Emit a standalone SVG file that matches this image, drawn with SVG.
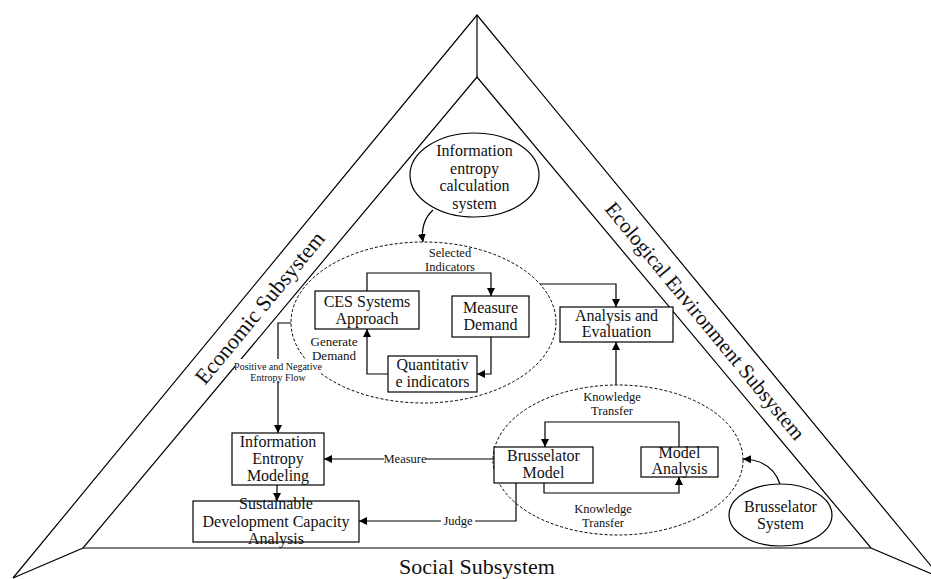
<svg xmlns="http://www.w3.org/2000/svg" width="931" height="579" viewBox="0 0 931 579">
<defs>
<marker id="ah" viewBox="0 0 10 10" refX="10" refY="5" markerWidth="8" markerHeight="8" markerUnits="userSpaceOnUse" orient="auto">
<path d="M0,0 L10,5 L0,10 z" fill="#000"/>
</marker>
<style>
.frame{fill:none;stroke:#000;stroke-width:1.2}
.box{fill:#fff;stroke:#000;stroke-width:1.2}
.ell{fill:#fff;stroke:#000;stroke-width:1.2}
.dash{fill:none;stroke:#000;stroke-width:1;stroke-dasharray:3,2}
.con{fill:none;stroke:#000;stroke-width:1.2;marker-end:url(#ah)}
.line{fill:none;stroke:#000;stroke-width:1.2}
text{font-family:"Liberation Serif","Times New Roman",serif;fill:#111;text-anchor:middle}
.t16{font-size:16px}
.t13{font-size:13px}
.t12{font-size:12.5px}
.t10{font-size:10px}
.big{font-size:22px}
.big21{font-size:21px}
.bg{fill:#fff;stroke:none}
</style>
</defs>
<rect width="931" height="579" fill="#fff"/>
<g id="frame">
<polyline class="frame" points="13,578 477,15 941,578"/>
<polyline class="frame" points="13,578 83,548 477,77 871,548 941,578"/>
<line class="frame" x1="83" y1="548" x2="871" y2="548"/>
<line class="frame" x1="477" y1="15" x2="477" y2="77"/>
<text class="big" transform="translate(260,308) rotate(-50.5)" x="0" y="7">Economic Subsystem</text>
<text class="big21" transform="translate(705,321) rotate(50.5)" x="0" y="7">Ecological Environment Subsystem</text>
<text class="big" x="477" y="574">Social Subsystem</text>
</g>
<g id="group-ces"><ellipse class="dash" cx="423.5" cy="322.5" rx="132.5" ry="80.5"/></g>
<g id="group-bru"><ellipse class="dash" cx="618" cy="460" rx="125" ry="75"/></g>
<g id="connectors">
<path class="con" d="M433,210 Q420,222 423,242"/>
<path class="con" d="M367,291 V273 H491 V296"/>
<path class="con" d="M491,337 V374 H477"/>
<path class="con" d="M388,374 H367 V329"/>
<path class="con" d="M540,284 H616 V307"/>
<path class="con" d="M291,323 H278 V433"/>
<path class="con" d="M277,485 V501"/>
<path class="con" d="M494,459 H324"/>
<path class="con" d="M516,483 V521 H359"/>
<path class="con" d="M616,385 V342"/>
<path class="con" d="M679,447 V422 H545 V447"/>
<path class="con" d="M544,483 V493 H679 V477"/>
<path class="con" d="M780,484 Q772,460 743,459"/>
<rect class="bg" x="235" y="359" width="86" height="22"/>
<text class="t10" x="278" y="370">Positive and Negative</text>
<text class="t10" x="278" y="381">Entropy Flow</text>
<rect class="bg" x="384" y="452" width="42" height="14"/>
<text class="t12" x="405" y="463">Measure</text>
<rect class="bg" x="441" y="514" width="34" height="14"/>
<text class="t12" x="458" y="525">Judge</text>
<text class="t12" x="450" y="257">Selected</text>
<text class="t12" x="450" y="271">Indicators</text>
<text class="t13" x="334" y="346">Generate</text>
<text class="t13" x="334" y="360">Demand</text>
<text class="t12" x="612" y="401">Knowledge</text>
<text class="t12" x="612" y="415">Transfer</text>
<text class="t12" x="603" y="513">Knowledge</text>
<text class="t12" x="603" y="527">Transfer</text>
</g>
<g id="info-entropy-system">
<ellipse class="ell" cx="474.5" cy="175" rx="64.5" ry="42"/>
<text class="t16" x="474.5" y="156">Information</text>
<text class="t16" x="474.5" y="173.5">entropy</text>
<text class="t16" x="474.5" y="191">calculation</text>
<text class="t16" x="474.5" y="208.5">system</text>
</g>
<g id="ces">
<rect class="box" x="315" y="291" width="104" height="38"/>
<text class="t16" x="367" y="307">CES Systems</text>
<text class="t16" x="367" y="324">Approach</text>
</g>
<g id="measure-demand">
<rect class="box" x="452" y="296" width="77" height="41"/>
<text class="t16" x="490.5" y="313">Measure</text>
<text class="t16" x="490.5" y="330">Demand</text>
</g>
<g id="quantitative">
<rect class="box" x="388" y="356" width="89" height="36"/>
<text class="t16" x="432.5" y="370">Quantitativ</text>
<text class="t16" x="432.5" y="387">e indicators</text>
</g>
<g id="analysis-evaluation">
<rect class="box" x="560" y="307" width="113" height="35"/>
<text class="t16" x="616.5" y="321">Analysis and</text>
<text class="t16" x="616.5" y="337">Evaluation</text>
</g>
<g id="info-entropy-modeling">
<rect class="box" x="232" y="433" width="92" height="52"/>
<text class="t16" x="278" y="447">Information</text>
<text class="t16" x="278" y="464">Entropy</text>
<text class="t16" x="278" y="481">Modeling</text>
</g>
<g id="sustainable">
<rect class="box" x="193" y="501" width="166" height="41"/>
<text class="t16" x="276" y="509">Sustainable</text>
<text class="t16" x="276" y="527">Development Capacity</text>
<text class="t16" x="276" y="544">Analysis</text>
</g>
<g id="brusselator-model">
<rect class="box" x="494" y="447" width="99" height="36"/>
<text class="t16" x="543.5" y="461">Brusselator</text>
<text class="t16" x="543.5" y="478">Model</text>
</g>
<g id="model-analysis">
<rect class="box" x="641" y="447" width="77" height="30"/>
<text class="t16" x="679.5" y="458">Model</text>
<text class="t16" x="679.5" y="474">Analysis</text>
</g>
<g id="brusselator-system">
<ellipse class="ell" cx="780.5" cy="515" rx="51.5" ry="31"/>
<text class="t16" x="780.5" y="512">Brusselator</text>
<text class="t16" x="780.5" y="529">System</text>
</g>
</svg>
